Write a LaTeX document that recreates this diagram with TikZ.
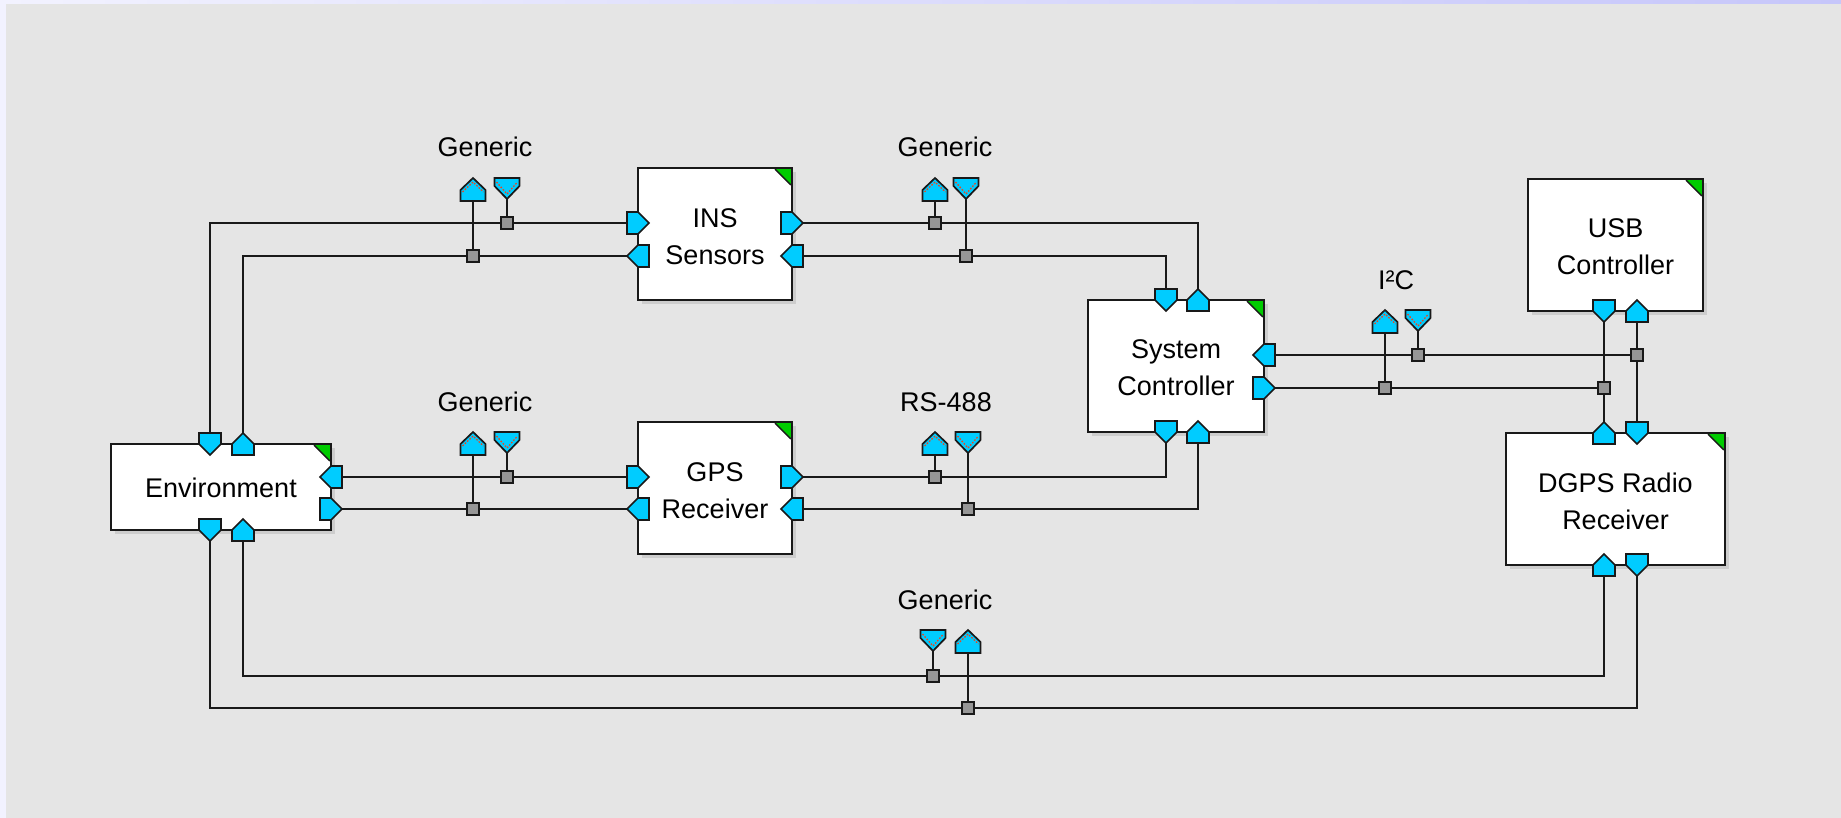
\documentclass[tikz,border=0pt]{standalone}
\usepackage{fontspec}
\setmainfont{Liberation Sans}
\usetikzlibrary{calc,shadows}
\definecolor{bggray}{RGB}{229,229,229}
\definecolor{portcyan}{RGB}{0,204,255}
\definecolor{cornergreen}{RGB}{0,204,0}
\definecolor{juncgray}{RGB}{150,150,150}
\definecolor{wirecol}{RGB}{25,25,25}
\definecolor{chevred}{RGB}{235,70,30}
\definecolor{lavL}{RGB}{242,242,255}
\definecolor{lavR}{RGB}{198,198,250}
\definecolor{shadowgray}{RGB}{205,205,205}
\tikzset{
  blk/.style={draw=wirecol, line width=2.4pt, fill=white,
    inner sep=0pt, outer sep=0pt,
    drop shadow={shadow xshift=4pt, shadow yshift=-4pt, fill=shadowgray, opacity=1}},
  blktext/.style={align=center, inner sep=0pt, font=\fontsize{27}{37}\selectfont},
  wire/.style={draw=wirecol, line width=2pt},
  portst/.style={draw=wirecol, fill=portcyan, line width=1.7pt, line join=miter},
  iconst/.style={draw=wirecol, fill=portcyan, line width=1.7pt, line join=miter},
  chev/.style={draw=chevred, line width=1.3pt, dash pattern=on 1.6pt off 1.6pt},
  junc/.style={rectangle, draw=wirecol, fill=juncgray, line width=1.5pt,
    minimum size=12pt, inner sep=0pt, outer sep=0pt},
  buslabel/.style={anchor=base, font=\fontsize{27}{30}\selectfont, inner sep=0pt}
}
\newcommand{\prt}[2]{\draw[portst, shift={(#1)}, rotate=#2] (-11,-11) -- (0,-11) -- (11,0) -- (0,11) -- (-11,11) -- cycle;}
\newcommand{\gcorner}[1]{%
  \fill[cornergreen] ($(#1.north east)+(-17,1.2)$) -- ($(#1.north east)+(-1.2,1.2)$) -- ($(#1.north east)+(-1.2,17)$) -- cycle;
  \draw[wirecol, line width=1.4pt] ($(#1.north east)+(-17,1.2)$) -- ($(#1.north east)+(-1.2,17)$);}
\newcommand{\busupstem}[3]{\draw[wire] (#1,#2+23) -- (#3);}
\newcommand{\busdnstem}[3]{\draw[wire] (#1,#2+21) -- (#3);}
\newcommand{\busup}[2]{%
  \draw[iconst] (#1,#2) -- (#1+12.5,#2+12) -- (#1+12.5,#2+23) -- (#1-12.5,#2+23) -- (#1-12.5,#2+12) -- cycle;
  \draw[chev] (#1-10.5,#2+14) -- (#1,#2+4) -- (#1+10.5,#2+14);}
\newcommand{\busdn}[2]{%
  \draw[iconst] (#1-12.5,#2) -- (#1+12.5,#2) -- (#1+12.5,#2+8) -- (#1,#2+21) -- (#1-12.5,#2+8) -- cycle;
  \draw[chev] (#1-10.5,#2+4) -- (#1,#2+16) -- (#1+10.5,#2+4);}
\begin{document}
\begin{tikzpicture}[x=1pt,y=-1pt]
\useasboundingbox (0,0) rectangle (1841,818);
\shade[left color=lavL, right color=lavR] (0,0) rectangle (1841,818);
\fill[bggray] (6,4) rectangle (1841,818);

% port coordinates
\coordinate (envT1) at (210,444); \coordinate (envT2) at (243,444);
\coordinate (envR1) at (331,477); \coordinate (envR2) at (331,509);
\coordinate (envB1) at (210,530); \coordinate (envB2) at (243,530);
\coordinate (insL1) at (638,223); \coordinate (insL2) at (638,256);
\coordinate (insR1) at (792,223); \coordinate (insR2) at (792,256);
\coordinate (gpsL1) at (638,477); \coordinate (gpsL2) at (638,509);
\coordinate (gpsR1) at (792,477); \coordinate (gpsR2) at (792,509);
\coordinate (scT1) at (1166,300); \coordinate (scT2) at (1198,300);
\coordinate (scR1) at (1264,355); \coordinate (scR2) at (1264,388);
\coordinate (scB1) at (1166,432); \coordinate (scB2) at (1198,432);
\coordinate (usbB1) at (1604,311); \coordinate (usbB2) at (1637,311);
\coordinate (dgT1) at (1604,433); \coordinate (dgT2) at (1637,433);
\coordinate (dgB1) at (1604,565); \coordinate (dgB2) at (1637,565);
% junction coordinates
\coordinate (jA1) at (473,256); \coordinate (jA2) at (507,223);
\coordinate (jB1) at (935,223); \coordinate (jB2) at (966,256);
\coordinate (jC1) at (473,509); \coordinate (jC2) at (507,477);
\coordinate (jD1) at (935,477); \coordinate (jD2) at (968,509);
\coordinate (jE1) at (1385,388); \coordinate (jE2) at (1418,355);
\coordinate (jF1) at (933,676); \coordinate (jF2) at (968,708);
\coordinate (jT1) at (1637,355); \coordinate (jT2) at (1604,388);

% wires
\draw[wire] (envT1) |- (insL1);
\draw[wire] (envT2) |- (insL2);
\draw[wire] (envR1) -- (gpsL1);
\draw[wire] (envR2) -- (gpsL2);
\draw[wire] (insR1) -| (scT2);
\draw[wire] (insR2) -| (scT1);
\draw[wire] (gpsR1) -| (scB1);
\draw[wire] (gpsR2) -| (scB2);
\draw[wire] (scR1) -- (jT1);
\draw[wire] (scR2) -- (jT2);
\draw[wire] (usbB1) -- (dgT1);
\draw[wire] (usbB2) -- (dgT2);
\draw[wire] (envB2) |- (jF1) -| (dgB1);
\draw[wire] (envB1) |- (jF2) -| (dgB2);

% bus stems
\busupstem{473}{178}{jA1} \busdnstem{507}{178}{jA2}
\busupstem{935}{178}{jB1} \busdnstem{966}{178}{jB2}
\busupstem{473}{432}{jC1} \busdnstem{507}{432}{jC2}
\busupstem{935}{432}{jD1} \busdnstem{968}{432}{jD2}
\busupstem{1385}{310}{jE1} \busdnstem{1418}{310}{jE2}
\busdnstem{933}{630}{jF1} \busupstem{968}{630}{jF2}

% blocks
\node[blk, minimum width=220pt, minimum height=86pt] (env) at (221,487) {};
\node[blk, minimum width=154pt, minimum height=132pt] (ins) at (715,234) {};
\node[blk, minimum width=154pt, minimum height=132pt] (gps) at (715,488) {};
\node[blk, minimum width=176pt, minimum height=132pt] (sc) at (1176,366) {};
\node[blk, minimum width=175pt, minimum height=132pt] (usb) at (1615.5,245) {};
\node[blk, minimum width=219pt, minimum height=132pt] (dgps) at (1615.5,499) {};
\node[blktext] (envt) at ([yshift=-1pt]env.center) {Environment};
\node[blktext] (inst) at ([yshift=-3pt]ins.center) {INS\\Sensors};
\node[blktext] (gpst) at ([yshift=-3pt]gps.center) {GPS\\Receiver};
\node[blktext] (sct) at ([yshift=-2pt]sc.center) {System\\Controller};
\node[blktext] (usbt) at ([yshift=-2pt]usb.center) {USB\\Controller};
\node[blktext] (dgpst) at ([yshift=-2pt]dgps.center) {DGPS Radio\\Receiver};
\gcorner{env} \gcorner{ins} \gcorner{gps} \gcorner{sc} \gcorner{usb} \gcorner{dgps}

% ports
\prt{envT1}{-90} \prt{envT2}{90} \prt{envR1}{180} \prt{envR2}{0} \prt{envB1}{-90} \prt{envB2}{90}
\prt{insL1}{0} \prt{insL2}{180} \prt{insR1}{0} \prt{insR2}{180}
\prt{gpsL1}{0} \prt{gpsL2}{180} \prt{gpsR1}{0} \prt{gpsR2}{180}
\prt{scT1}{-90} \prt{scT2}{90} \prt{scR1}{180} \prt{scR2}{0} \prt{scB1}{-90} \prt{scB2}{90}
\prt{usbB1}{-90} \prt{usbB2}{90}
\prt{dgT1}{90} \prt{dgT2}{-90} \prt{dgB1}{90} \prt{dgB2}{-90}

% junctions
\foreach \j in {jA1,jA2,jB1,jB2,jC1,jC2,jD1,jD2,jE1,jE2,jF1,jF2,jT1,jT2}
  \node[junc] (n\j) at (\j) {};

% bus icons
\busup{473}{178} \busdn{507}{178}
\busup{935}{178} \busdn{966}{178}
\busup{473}{432} \busdn{507}{432}
\busup{935}{432} \busdn{968}{432}
\busup{1385}{310} \busdn{1418}{310}
\busdn{933}{630} \busup{968}{630}

% labels
\node[buslabel] (lA) at (485,157) {Generic};
\node[buslabel] (lB) at (945,157) {Generic};
\node[buslabel] (lC) at (485,411) {Generic};
\node[buslabel] (lD) at (946,411) {RS-488};
\node[buslabel] (lE) at (1396,289) {I²C};
\node[buslabel] (lF) at (945,609) {Generic};
\end{tikzpicture}
\end{document}
